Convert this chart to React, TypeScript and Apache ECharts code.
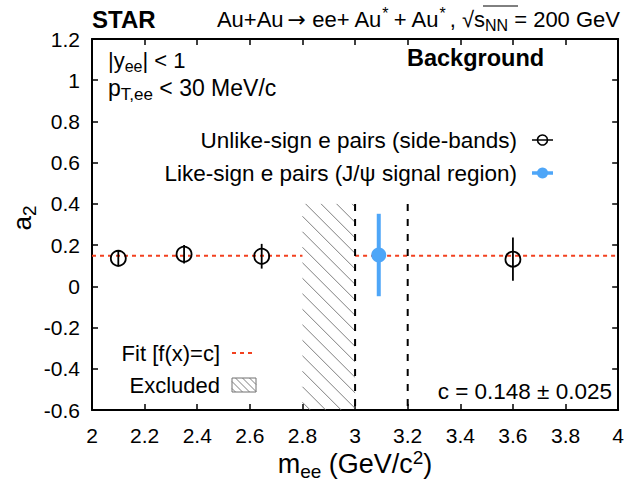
import React, { useEffect, useRef } from "react";
import * as echarts from "echarts";

// ---- data ----
const xMin = 2;
const xMax = 4;
const xStep = 0.2;
const yMin = -0.6;
const yMax = 1.2;
const yStep = 0.2;

const unlikeMass = [2.1, 2.35, 2.645, 3.6];
const unlikeA2 = [0.136, 0.156, 0.146, 0.132];
const unlikeErr = [0.04, 0.045, 0.06, 0.105];

const likeMass = [3.09];
const likeA2 = [0.152];
const likeErr = [0.2];

const fitC = 0.148;
const fitCErr = 0.025;
const fitRanges = [
  [2.0, 2.8],
  [3.0, 4.0],
];
const excludedRange = [2.8, 3.0];
const excludedTop = 0.4;
const signalEdges = [3.0, 3.2];

const FONT = "Liberation Sans, Arial, Helvetica, sans-serif";
const RED = "#f2401f";
const BLUE = "#4ea6f8";
const HATCH = "#707070";

function hatchLines(xl: number, yt: number, xr: number, yb: number, step: number) {
  const out: number[][] = [];
  const kStart = xl - yb;
  const kEnd = xr - yt;
  for (let k = kStart + step / 2; k < kEnd; k += step) {
    const a = Math.max(xl, yt + k);
    const b = Math.min(xr, yb + k);
    if (b > a) out.push([a, a - k, b, b - k]);
  }
  return out;
}

export default function App() {
  const ref = useRef<HTMLDivElement>(null);
  useEffect(() => {
    if (!ref.current) return;
    const chart = echarts.init(ref.current, undefined, { renderer: "svg" });

    const axisCommon = {
      type: "value" as const,
      axisLine: { show: true, onZero: false, lineStyle: { color: "#000", width: 2 } },
      axisTick: { show: true, inside: true, length: 6, lineStyle: { color: "#000", width: 1.5 } },
      splitLine: { show: false },
    };
    const fmt = (v: number) => String(Math.round(v * 10) / 10);

    const errorRender = (color: string, filled: boolean, lw: number, r: number) =>
      (params: any, api: any) => {
        const x = api.value(0);
        const y = api.value(1);
        const e = api.value(2);
        const p = api.coord([x, y]);
        const t = api.coord([x, y + e]);
        const b = api.coord([x, y - e]);
        return {
          type: "group",
          children: [
            {
              type: "line",
              shape: { x1: t[0], y1: t[1], x2: b[0], y2: b[1] },
              style: { stroke: color, lineWidth: lw },
            },
            {
              type: "circle",
              shape: { cx: p[0], cy: p[1], r },
              style: filled
                ? { fill: color, stroke: color, lineWidth: 0 }
                : { fill: "none", stroke: color, lineWidth: 1.8 },
            },
          ],
        };
      };

    const series: any[] = [];

    // Excluded hatched region
    series.push({
      type: "custom",
      xAxisIndex: 0,
      yAxisIndex: 0,
      data: [[excludedRange[0], excludedRange[1], yMin, excludedTop]],
      renderItem: (params: any, api: any) => {
        const tl = api.coord([api.value(0), api.value(3)]);
        const br = api.coord([api.value(1), api.value(2)]);
        const segs = hatchLines(tl[0], tl[1], br[0], br[1], 15.5);
        return {
          type: "group",
          children: segs.map((s) => ({
            type: "line",
            shape: { x1: s[0], y1: s[1], x2: s[2], y2: s[3] },
            style: { stroke: HATCH, lineWidth: 0.9 },
          })),
        };
      },
      z: 1,
    });

    // fit lines
    fitRanges.forEach((r) => {
      series.push({
        type: "line",
        xAxisIndex: 0,
        yAxisIndex: 0,
        data: [
          [r[0], fitC],
          [r[1], fitC],
        ],
        symbol: "none",
        lineStyle: { color: RED, width: 2, type: [4, 4] },
        z: 2,
      });
    });

    // signal window edges
    signalEdges.forEach((xv) => {
      series.push({
        type: "line",
        xAxisIndex: 0,
        yAxisIndex: 0,
        data: [
          [xv, excludedTop],
          [xv, yMin],
        ],
        symbol: "none",
        lineStyle: { color: "#000", width: 2, type: [7, 8] },
        z: 3,
      });
    });

    series.push({
      type: "custom",
      name: "Unlike-sign e pairs (side-bands)",
      xAxisIndex: 0,
      yAxisIndex: 0,
      data: unlikeMass.map((m, i) => [m, unlikeA2[i], unlikeErr[i]]),
      renderItem: errorRender("#000", false, 1.8, 7.5),
      z: 5,
    });
    series.push({
      type: "custom",
      name: "Like-sign e pairs (J/ψ signal region)",
      xAxisIndex: 0,
      yAxisIndex: 0,
      data: likeMass.map((m, i) => [m, likeA2[i], likeErr[i]]),
      renderItem: errorRender(BLUE, true, 4, 7.5),
      z: 5,
    });

    const T = (x: number, y: number, text: string, opts: any = {}) => ({
      type: "text",
      x,
      y,
      style: {
        text,
        fill: "#000",
        fontFamily: FONT,
        fontSize: opts.size || 22,
        fontWeight: opts.weight || "normal",
        textAlign: opts.align || "left",
        textVerticalAlign: "middle",
        rich: opts.rich,
      },
      rotation: opts.rotation || 0,
      z: 10,
    });

    const richBase = (size: number) => ({
      sub: { fontSize: Math.round(size * 0.72), fontFamily: FONT, padding: [Math.round(size * 0.55), 0, 0, 0] },
      sup: { fontSize: Math.round(size * 0.72), fontFamily: FONT, padding: [0, 0, Math.round(size * 0.5), 0] },
      supw: { fontSize: Math.round(size * 0.72), fontFamily: FONT, padding: [0, 4, Math.round(size * 0.5), 1] },
      n: { fontSize: size, fontFamily: FONT },
      arr: { fontSize: size, fontFamily: "DejaVu Sans", padding: [0, 5, 0, 4] },
    });

    // hatch legend box
    const hbx = 232, hby = 378, hbw = 24, hbh = 14;
    const legendHatch = hatchLines(hbx, hby, hbx + hbw, hby + hbh, 7).map((s) => ({
      type: "line",
      shape: { x1: s[0], y1: s[1], x2: s[2], y2: s[3] },
      style: { stroke: HATCH, lineWidth: 0.9 },
      z: 10,
    }));

    const graphic: any[] = [
      T(92, 19, "STAR", { weight: "bold", size: 24 }),
      T(
        620,
        19,
        "{n|Au+Au}{arr|→}{n|ee+ Au}{supw|*}{n|+ Au}{supw|*}{n|, √s}{sub|NN}{n| = 200 GeV}",
        { align: "right", size: 22, rich: richBase(22) }
      ),
      {
        type: "line",
        shape: { x1: 483, y1: 6, x2: 518, y2: 6 },
        style: { stroke: "#000", lineWidth: 1 },
        z: 10,
      },
      T(108, 60, "{n||y}{sub|ee}{n|| < 1}", { size: 22, rich: richBase(22) }),
      T(108, 88, "{n|p}{sub|T,ee}{n| < 30 MeV/c}", { size: 23, rich: richBase(23) }),
      T(407, 58, "Background", { weight: "bold", size: 23.5 }),
      T(517, 140, "Unlike-sign e pairs (side-bands)", { align: "right", size: 22.5 }),
      T(517, 173, "Like-sign e pairs (J/ψ signal region)", { align: "right", size: 22.5 }),
      {
        type: "line",
        shape: { x1: 532, y1: 140, x2: 553, y2: 140 },
        style: { stroke: "#000", lineWidth: 1.5 },
        z: 10,
      },
      {
        type: "circle",
        shape: { cx: 542.5, cy: 140, r: 5 },
        style: { fill: "none", stroke: "#000", lineWidth: 1.6 },
        z: 10,
      },
      {
        type: "line",
        shape: { x1: 532, y1: 173, x2: 553, y2: 173 },
        style: { stroke: BLUE, lineWidth: 3.5 },
        z: 10,
      },
      {
        type: "circle",
        shape: { cx: 542.5, cy: 173, r: 5.5 },
        style: { fill: BLUE, stroke: BLUE, lineWidth: 0 },
        z: 10,
      },
      T(220, 353, "Fit [f(x)=c]", { align: "right", size: 22 }),
      {
        type: "line",
        shape: { x1: 232, y1: 353, x2: 256, y2: 353 },
        style: { stroke: RED, lineWidth: 2, lineDash: [4, 4] },
        z: 10,
      },
      T(220, 385, "Excluded", { align: "right", size: 22 }),
      {
        type: "rect",
        shape: { x: hbx, y: hby, width: hbw, height: hbh },
        style: { fill: "none", stroke: HATCH, lineWidth: 1 },
        z: 10,
      },
      ...legendHatch,
      T(612, 391, `c = ${fitC.toFixed(3)} ± ${fitCErr.toFixed(3)}`, { align: "right", size: 22.5 }),
      T(22, 218, "{n|a}{sub|2}", { size: 26, rich: richBase(26), rotation: Math.PI / 2, align: "center" }),
      T(355, 464, "{n|m}{sub|ee}{n| (GeV/c}{sup|2}{n|)}", { align: "center", size: 27, rich: richBase(27) }),
    ];

    chart.setOption({
      animation: false,
      backgroundColor: "#fff",
      textStyle: { fontFamily: FONT },
      grid: { left: 92, right: 6, top: 39, bottom: 71, containLabel: false },
      xAxis: [
        {
          ...axisCommon,
          position: "bottom",
          min: xMin,
          max: xMax,
          interval: xStep,
          axisLabel: { show: true, color: "#000", fontSize: 21, fontFamily: FONT, margin: 15, formatter: fmt },
        },
        {
          ...axisCommon,
          position: "top",
          min: xMin,
          max: xMax,
          interval: xStep,
          axisLabel: { show: false },
        },
      ],
      yAxis: [
        {
          ...axisCommon,
          position: "left",
          min: yMin,
          max: yMax,
          interval: yStep,
          axisLabel: { show: true, color: "#000", fontSize: 21, fontFamily: FONT, margin: 12, formatter: fmt },
        },
        {
          ...axisCommon,
          position: "right",
          min: yMin,
          max: yMax,
          interval: yStep,
          axisLabel: { show: false },
        },
      ],
      series,
      graphic,
    });

    return () => chart.dispose();
  }, []);

  return <div ref={ref} style={{ width: 627, height: 481, position: "absolute", left: 0, top: 0 }} />;
}
